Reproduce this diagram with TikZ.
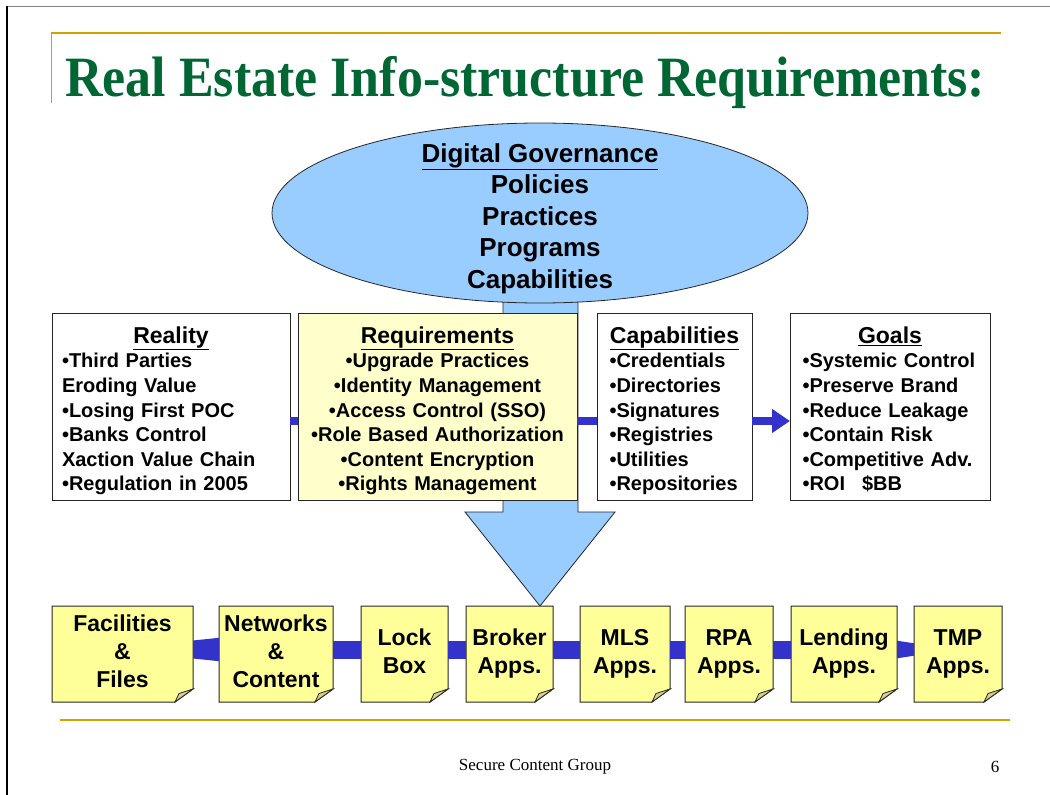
\documentclass[tikz,border=0pt]{standalone}
\usepackage{fontspec}
\setmainfont{Liberation Serif}
\newfontfamily\arial{Liberation Sans}
\usetikzlibrary{shapes.geometric,arrows.meta}

\definecolor{titlegreen}{RGB}{0,102,51}
\definecolor{rulegold}{RGB}{212,160,0}
\definecolor{skyfill}{RGB}{153,204,255}
\definecolor{paleyellow}{RGB}{255,255,204}
\definecolor{noteyellow}{RGB}{255,255,153}
\definecolor{notefold}{RGB}{214,208,140}
\definecolor{barblue}{RGB}{51,51,204}

% a yellow note card with a folded lower-right corner
\newcommand\notecard[4]{%
  \path[notebody] (#2,606) -- (#3,606) -- (#3,689) -- ({#3-18},702) -- (#2,702) -- cycle;
  \path[noteflap] (#3,689) -- ({#3-18},702) .. controls ({#3-16.5},698) .. ({#3-14},693.5) -- cycle;
  \node[notetext, minimum width={#3-#2}] (#1) at ({(#2+#3)/2},655.5) {#4};
}
% a tapered blue bar between two neighbouring cards
\newcommand\cardlink[4]{%
  \fill[barblue] ([yshift=6pt+#3]#1.east) -- ([yshift=6pt+#4]#2.west)
    -- ([yshift=6pt-#4]#2.west) -- ([yshift=6pt-#3]#1.east) -- cycle;
}
% one bullet line in a text box
\newcommand\li[1]{\mbox{•#1}\\}
\newcommand\boxhead[1]{\makebox[\linewidth]{\fontsize{23}{24.6}\selectfont\strut\underline{#1}}\\}

\begin{document}
\begin{tikzpicture}[x=1pt,y=-1pt,
  infobox/.style={rectangle, draw=black!85, line width=1pt, anchor=north west,
    outer sep=0pt, inner sep=0pt, minimum height=187pt},
  boxtext/.style={inner sep=0pt, outer sep=0pt,
    font=\arial\bfseries\fontsize{20}{24.6}\selectfont},
  notebody/.style={draw=black!85, line width=1pt, fill=noteyellow},
  noteflap/.style={draw=black!85, line width=0.8pt, fill=notefold},
  notetext/.style={inner sep=0pt, outer sep=0pt, minimum height=96pt, align=center,
    font=\arial\bfseries\fontsize{23}{28}\selectfont,
    execute at begin node=\strut, execute at end node=\strut},
  bar/.style={draw=barblue, line width=8pt},
]
\useasboundingbox (0,0) rectangle (1050,795);

% page frame and header rules
\draw[black!50, line width=1pt] (7,6) -- (1050,6);
\draw[black, line width=1.3pt] (7,6) -- (7,795);
\draw[rulegold, line width=2pt] (51,33) -- (1001,33);
\draw[rulegold, line width=1.6pt] (51.5,33) -- (51.5,103);
\draw[rulegold, line width=2pt] (60,720) -- (1010,720);

% title
\node[anchor=base west, inner sep=0pt, text=titlegreen,
  font=\bfseries\fontsize{57}{60}\selectfont] (title) at (65,96)
  {\resizebox{920pt}{\height}{Real Estate Info-structure Requirements:}};

% big downward arrow behind the requirements box
\path[draw=black!85, line width=0.8pt, fill=skyfill]
  (503,290) -- (578,290) -- (578,512) -- (615,512) -- (540,606)
  -- (465,512) -- (503,512) -- cycle;

% governance ellipse and its text
\node[ellipse, draw=black!85, line width=0.8pt, fill=skyfill, inner sep=0pt,
  minimum width=536pt, minimum height=180pt] (gov) at (540,213) {};
\node[inner sep=0pt, align=center,
  font=\arial\bfseries\fontsize{26}{31.5}\selectfont] (govtext) at (540,218.5)
  {\underline{Digital Governance}\\Policies\\Practices\\Programs\\Capabilities};

% the four text boxes
\node[infobox, minimum width=238pt] (reality) at (52,313) {};
\node[infobox, fill=paleyellow, minimum width=279pt] (requirements) at (298,313) {};
\node[infobox, minimum width=155pt] (capabilities) at (597,313) {};
\node[infobox, minimum width=200pt] (goals) at (790,313) {};

\node[boxtext, anchor=north west, text width=218pt, align=left] (reality-text)
  at ([xshift=10pt,yshift=-13pt]reality.north west)
  {\boxhead{Reality}\li{Third Parties}\mbox{Eroding Value}\\\li{Losing First POC}\li{Banks Control}\mbox{Xaction Value Chain}\\\mbox{•Regulation in 2005}};
\node[boxtext, anchor=north, text width=263pt, align=center] (requirements-text)
  at ([yshift=-13pt]requirements.north)
  {\boxhead{Requirements}\li{Upgrade Practices}\li{Identity Management}\li{Access Control (SSO)}\li{Role Based Authorization}\li{Content Encryption}\mbox{•Rights Management}};
\node[boxtext, anchor=north west, text width=130pt, align=left] (capabilities-text)
  at ([xshift=12.5pt,yshift=-13pt]capabilities.north west)
  {\boxhead{Capabilities}\li{Credentials}\li{Directories}\li{Signatures}\li{Registries}\li{Utilities}\mbox{•Repositories}};
\node[boxtext, anchor=north west, text width=175pt, align=left] (goals-text)
  at ([xshift=12.5pt,yshift=-13pt]goals.north west)
  {\boxhead{Goals}\li{Systemic Control}\li{Preserve Brand}\li{Reduce Leakage}\li{Contain Risk}\li{Competitive Adv.}\mbox{•ROI\hspace{17pt}\$BB}};

% links between the text boxes
\draw[bar] ([yshift=-14.5pt]reality.east) -- ([yshift=-14.5pt]requirements.west);
\draw[bar] ([yshift=-14.5pt]requirements.east) -- ([yshift=-14.5pt]capabilities.west);
\draw[bar, -{Triangle[length=18pt,width=23pt]}] ([yshift=-14.5pt]capabilities.east) -- ([yshift=-14.5pt]goals.west);

% bottom row of note cards
\notecard{facilities}{52}{193}{Facilities\\\&\\Files}
\notecard{networks}{219}{333}{Networks\\\&\\Content}
\notecard{lockbox}{361}{448}{Lock\\Box}
\notecard{broker}{466}{553}{Broker\\Apps.}
\notecard{mls}{580}{670}{MLS\\Apps.}
\notecard{rpa}{685}{773}{RPA\\Apps.}
\notecard{lending}{791}{897}{Lending\\Apps.}
\notecard{tmp}{914}{1002}{TMP\\Apps.}

\cardlink{facilities}{networks}{9pt}{11.7pt}
\cardlink{networks}{lockbox}{9pt}{9pt}
\cardlink{lockbox}{broker}{9pt}{9pt}
\cardlink{broker}{mls}{9pt}{9pt}
\cardlink{mls}{rpa}{9pt}{9pt}
\cardlink{rpa}{lending}{9pt}{9pt}
\cardlink{lending}{tmp}{8.8pt}{6.2pt}

% footer
\node[font=\fontsize{17}{19}\selectfont, inner sep=0pt] (footer) at (535,767) {Secure Content Group};
\node[font=\fontsize{17}{19}\selectfont, inner sep=0pt] (pagenum) at (995,767) {6};
\end{tikzpicture}
\end{document}
